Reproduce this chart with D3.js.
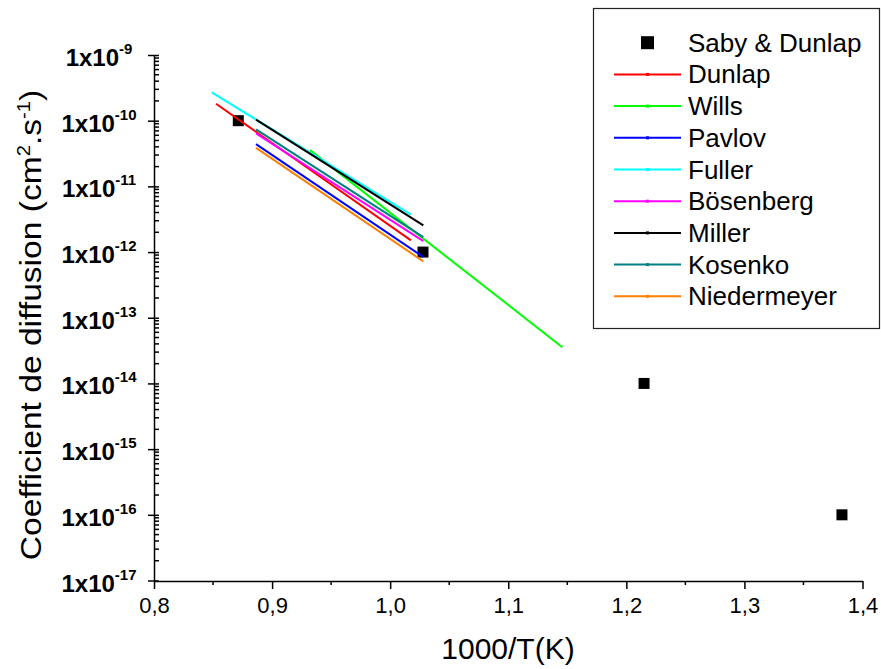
<!DOCTYPE html>
<html>
<head>
<meta charset="utf-8">
<script src="https://cdn.jsdelivr.net/npm/d3@7"></script>
<style>
body { margin: 0; background: #fff; }
svg { display: block; }
text { font-family: "Liberation Sans", Arial, Helvetica, sans-serif; fill: #000; }
.axis path, .axis line { stroke: #000; stroke-width: 1.5; }
</style>
</head>
<body>
<div id="graph"></div>
<script>
// Saby & Dunlap points (1000/T, D)
var sabyX = [0.8714, 1.0278, 1.215, 1.3826];
var sabyY = [1e-10, 1e-12, 1e-14, 1e-16];

// fitted lines: name, colour, start/end of 1000/T and D
var lineNames = ["Dunlap", "Wills", "Pavlov", "Fuller", "Bösenberg", "Miller", "Kosenko", "Niedermeyer"];
var lineColors = ["#ff0000", "#00ff00", "#0000ff", "#00ffff", "#ff00ff", "#000000", "#008080", "#ff8000"];
var lineX = [[0.8525, 1.0176], [0.9321, 1.1458], [0.8864, 1.0281], [0.8489, 1.0176],
             [0.8864, 1.0281], [0.8864, 1.0281], [0.8864, 1.0281], [0.8864, 1.0281]];
var lineY = [[1.81e-10, 1.51e-12], [3.56e-11, 3.56e-14], [4.4e-11, 8.4e-13], [2.7e-10, 3.72e-12],
             [6.4e-11, 1.47e-12], [1.04e-10, 2.55e-12], [7.36e-11, 1.69e-12], [3.86e-11, 7.2e-13]];

var xTicks = [0.8, 0.9, 1.0, 1.1, 1.2, 1.3, 1.4];
var yExps = [-9, -10, -11, -12, -13, -14, -15, -16, -17];

var svgWidth = 881, svgHeight = 669;
var margin = {top: 55, left: 154};
var plotW = 862.5 - 154, plotH = 580.5 - 55;

var svg = d3.select("#graph").append("svg")
	.attr("width", svgWidth)
	.attr("height", svgHeight);

var g = svg.append("g").attr("transform", "translate(" + margin.left + "," + margin.top + ")");

var xScale = d3.scaleLinear().domain([0.8, 1.4]).range([0, plotW]);
var yScale = d3.scaleLog().domain([1e-17, 1e-9]).range([plotH, 0]);

// x axis
var xAxis = g.append("g")
	.attr("class", "x axis")
	.attr("transform", "translate(0," + (plotH + 0.5) + ")")
	.call(d3.axisBottom(xScale).tickValues(xTicks).tickSize(8).tickSizeOuter(0)
		.tickFormat(function(d) { return d3.format(".1f")(d).replace(".", ","); }));
xAxis.selectAll("text").attr("y", 32).attr("dy", 0).style("font-size", "22px");

// x minor ticks
var xMinor = d3.range(0.85, 1.4, 0.1);
xAxis.selectAll(".minor").data(xMinor).enter().append("line")
	.attr("class", "minor")
	.attr("x1", function(d) { return xScale(d); })
	.attr("x2", function(d) { return xScale(d); })
	.attr("y1", 0).attr("y2", 4);

// y axis
var yMajor = yExps.map(function(e) { return Math.pow(10, e); });
var yAxis = g.append("g")
	.attr("class", "y axis")
	.call(d3.axisLeft(yScale).tickValues(yMajor).tickSize(6).tickSizeOuter(0).tickFormat(""));
yAxis.selectAll(".tick line").attr("x2", -6).attr("x1", 5);

// log minor ticks inside
var yMinor = [];
yExps.slice(1).forEach(function(e) {
	for (var m = 2; m <= 9; m++) yMinor.push(m * Math.pow(10, e));
});
yAxis.selectAll(".minor").data(yMinor).enter().append("line")
	.attr("class", "minor")
	.attr("x1", 0).attr("x2", 5)
	.attr("y1", function(d) { return yScale(d); })
	.attr("y2", function(d) { return yScale(d); });

// y tick labels 1x10^n
var yLab = yAxis.selectAll(".ylab").data(yExps).enter().append("text")
	.attr("class", "ylab")
	.attr("x", 99 - margin.left)
	.attr("y", function(e) { return yScale(Math.pow(10, e)) + 11; })
	.attr("text-anchor", "middle")
	.style("font-size", "24px")
	.style("font-weight", "bold");
yLab.append("tspan").text("1x10");
yLab.append("tspan").attr("dy", -12).style("font-size", "15px").text(function(e) { return "-" + (-e); });

// axis titles
svg.append("text")
	.attr("x", 508).attr("y", 659)
	.attr("text-anchor", "middle")
	.style("font-size", "30px")
	.text("1000/T(K)");

var yTitle = svg.append("text")
	.attr("transform", "translate(41,325) rotate(-90) scale(1.12,1)")
	.attr("text-anchor", "middle")
	.style("font-size", "30px");
yTitle.append("tspan").text("Coefficient de diffusion (cm");
yTitle.append("tspan").attr("dy", -11).style("font-size", "18px").text("2");
yTitle.append("tspan").attr("dy", 11).text(".s");
yTitle.append("tspan").attr("dy", -11).style("font-size", "18px").text("-1");
yTitle.append("tspan").attr("dy", 11).text(")");

// Saby & Dunlap squares
g.selectAll(".saby").data(sabyX).enter().append("rect")
	.attr("class", "saby")
	.attr("x", function(d) { return xScale(d) - 5.5; })
	.attr("y", function(d, i) { return yScale(sabyY[i]) - 5.5; })
	.attr("width", 11).attr("height", 11)
	.style("fill", "#000");

// lines
var lineGen = d3.line()
	.x(function(d) { return xScale(d[0]); })
	.y(function(d) { return yScale(d[1]); });

lineNames.forEach(function(name, i) {
	var pts = lineX[i].map(function(x, j) { return [x, lineY[i][j]]; });
	g.append("path")
		.attr("d", lineGen(pts))
		.style("fill", "none")
		.style("stroke", lineColors[i])
		.style("stroke-width", 2);
});

// legend
var legend = svg.append("g");
legend.append("rect")
	.attr("x", 593.5).attr("y", 8.5)
	.attr("width", 286).attr("height", 320)
	.style("fill", "#fff").style("stroke", "#222").style("stroke-width", 1.2);

var legY0 = 42.7, legStep = 31.7;
legend.append("rect")
	.attr("x", 641).attr("y", legY0 - 6.5)
	.attr("width", 13).attr("height", 13)
	.style("fill", "#000");
legend.append("text")
	.attr("x", 688).attr("y", legY0 + 9)
	.style("font-size", "26px")
	.text("Saby & Dunlap");

lineNames.forEach(function(name, i) {
	var yy = legY0 + (i + 1) * legStep;
	legend.append("line")
		.attr("x1", 614).attr("x2", 681)
		.attr("y1", yy).attr("y2", yy)
		.style("stroke", lineColors[i]).style("stroke-width", 2);
	legend.append("rect")
		.attr("x", 646).attr("y", yy - 1.5)
		.attr("width", 3).attr("height", 3)
		.style("fill", lineColors[i]);
	legend.append("text")
		.attr("x", 688).attr("y", yy + 9)
		.style("font-size", "26px")
		.text(name);
});
</script>
</body>
</html>
